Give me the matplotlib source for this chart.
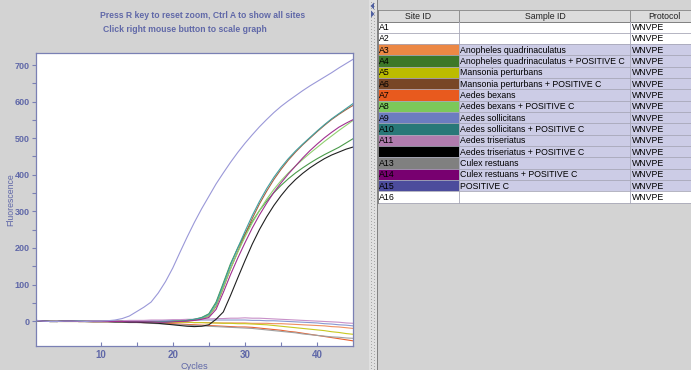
import matplotlib
matplotlib.use('Agg')
import matplotlib.pyplot as plt
from matplotlib.patches import Rectangle, Polygon

# ---------------- data ----------------
cycles = list(range(1, 46))

site_ids = ['A1', 'A2', 'A3', 'A4', 'A5', 'A6', 'A7', 'A8', 'A9', 'A10',
            'A11', 'A12', 'A13', 'A14', 'A15', 'A16']
sample_ids = ['', '', 'Anopheles quadrinaculatus',
              'Anopheles quadrinaculatus + POSITIVE C',
              'Mansonia perturbans', 'Mansonia perturbans + POSITIVE C',
              'Aedes bexans', 'Aedes bexans + POSITIVE C',
              'Aedes sollicitans', 'Aedes sollicitans + POSITIVE C',
              'Aedes triseriatus', 'Aedes triseriatus + POSITIVE C',
              'Culex restuans', 'Culex restuans + POSITIVE C',
              'POSITIVE C', '']
protocols = ['WNVPE'] * 16
site_colors = [None, None, '#ec8844', '#3c7828', '#bcbc00', '#784626',
               '#e85a1e', '#7cc85a', '#6c7cc0', '#287878', '#b07cae',
               '#000000', '#808080', '#780070', '#4c4c9c', None]

# fluorescence per cycle
A3 = [2, 0, -1, -1, 0, 0, -1, -1, -1, -1,
      -1, -1, -2, -2, -2, -2, -2, -3, -3, -3,
      -3, -3, -4, -4, -4, -5, -5, -5, -5, -5,
      -6, -6, -6, -7, -7, -8, -9, -10, -11, -12,
      -13, -15, -16, -18, -20]
A4 = [2, 0, -1, -1, 0, 0, 0, -1, -1, -1,
      -1, -1, -1, -2, -2, -2, -2, -2, -2, -1,
      0, 2, 5, 10, 20, 52, 104, 157, 200, 238,
      272, 302, 328, 351, 371, 389, 405, 419, 432, 444,
      455, 465, 475, 487, 499]
A5 = [1, 0, 0, -1, -1, -1, -1, -1, -1, -1,
      -1, -1, -1, -2, -2, -2, -2, -2, -3, -3,
      -3, -3, -4, -4, -5, -5, -6, -6, -7, -7,
      -8, -9, -10, -12, -14, -16, -18, -20, -22, -24,
      -26, -29, -31, -34, -36]
A6 = [2, 0, -1, -1, 0, 0, -1, -1, -1, -1,
      -1, -1, -1, -2, -2, -2, -2, -2, -2, -1,
      0, 1, 3, 7, 14, 40, 90, 143, 190, 236,
      280, 320, 355, 387, 415, 440, 462, 482, 500, 518,
      535, 551, 565, 578, 590]
A7 = [1, 0, 0, -1, -1, -1, -1, -1, -2, -2,
      -2, -2, -3, -3, -3, -4, -4, -5, -6, -7,
      -8, -9, -10, -11, -12, -13, -14, -15, -16, -16,
      -17, -19, -21, -23, -25, -28, -30, -33, -36, -39,
      -42, -45, -48, -51, -54]
A8 = [2, 0, -1, -1, 0, 0, -1, -1, -1, -1,
      -1, -1, -1, -2, -2, -2, -2, -2, -2, -1,
      0, 1, 3, 7, 14, 42, 92, 143, 188, 230,
      268, 302, 333, 360, 384, 405, 424, 442, 459, 475,
      491, 506, 521, 535, 549]
A9 = [1, 0, 0, 0, 0, 0, 0, 0, 0, 0,
      0, 0, 1, 1, 1, 1, 1, 1, 2, 2,
      2, 2, 2, 3, 3, 3, 3, 3, 3, 3,
      2, 2, 1, 1, 0, -1, -2, -3, -4, -5,
      -7, -8, -10, -11, -13]
A10 = [2, 0, -1, -1, 0, 0, 0, -1, -1, -1,
       -1, -1, -1, -2, -2, -2, -2, -2, -1, 0,
       0, 2, 5, 9, 18, 48, 100, 153, 200, 245,
       288, 327, 362, 393, 420, 444, 465, 484, 502, 520,
       537, 553, 567, 581, 595]
A11 = [2, 1, 0, 0, 0, 0, 0, 1, 1, 1,
       1, 1, 1, 2, 2, 2, 3, 3, 3, 4,
       4, 5, 5, 6, 6, 7, 7, 8, 8, 9,
       8, 8, 7, 6, 5, 4, 3, 2, 1, 0,
       -1, -2, -3, -5, -6]
A12 = [2, 0, -1, -1, 0, 0, -1, -1, -1, -1,
       -1, -2, -2, -3, -3, -4, -5, -6, -8, -10,
       -12, -14, -15, -14, -10, 5, 25, 70, 118, 165,
       210, 250, 285, 316, 343, 367, 387, 404, 419, 432,
       444, 454, 462, 470, 476]
A13 = [1, 0, 0, -1, -1, -1, -1, -1, -2, -2,
       -2, -3, -3, -4, -4, -5, -6, -7, -8, -9,
       -10, -11, -12, -13, -14, -15, -16, -17, -18, -19,
       -20, -22, -24, -26, -28, -30, -32, -35, -37, -39,
       -41, -43, -44, -46, -47]
A14 = [2, 0, -1, -1, 0, 0, -1, -1, -1, -1,
       -1, -1, -1, -2, -2, -2, -2, -3, -3, -2,
       -1, 0, 2, 5, 10, 32, 78, 127, 172, 214,
       254, 290, 322, 352, 378, 402, 424, 446, 466, 484,
       501, 516, 530, 541, 551]
A15 = [2, 0, -1, -1, 0, 0, 0, -1, 0, 0,
       1, 3, 7, 14, 26, 38, 52, 77, 108, 145,
       188, 230, 270, 307, 341, 375, 405, 434, 461, 486,
       509, 531, 551, 570, 587, 602, 616, 630, 643, 655,
       667, 679, 692, 704, 716]

curve_sites = ['A3', 'A5', 'A7', 'A9', 'A11', 'A13',
               'A4', 'A6', 'A8', 'A10', 'A12', 'A14', 'A15']
curve_values = [A3, A5, A7, A9, A11, A13, A4, A6, A8, A10, A12, A14, A15]
line_colors = ['#ee9060', '#c8c820', '#e86030', '#8898d0', '#c890c8', '#a0a0a0',
               '#4a9a4a', '#a86040', '#90d070', '#40a0a0', '#202020', '#a03090',
               '#9a98d8']

yticks = [0, 100, 200, 300, 400, 500, 600, 700]
xticks = [10, 20, 30, 40]

# ---------------- figure ----------------
W, H = 691, 370
BG = '#d3d3d3'
BLUE = '#6068a8'
plt.rcParams['font.family'] = ['Liberation Sans', 'DejaVu Sans']

fig = plt.figure(figsize=(W / 100, H / 100), dpi=100)
fig.patch.set_facecolor(BG)

# overlay in pixel coordinates
ov = fig.add_axes([0, 0, 1, 1])
ov.set_xlim(0, W)
ov.set_ylim(H, 0)
ov.axis('off')
ov.patch.set_alpha(0)

# plot axes
L, R, T, B = 35.5, 353.3, 53.3, 346.0
ax = fig.add_axes([L / W, (H - B) / H, (R - L) / W, (B - T) / H])
ax.set_facecolor('white')
for s in ax.spines.values():
    s.set_color('#7a80b4')
    s.set_linewidth(0.9)

for vals, col in zip(curve_values, line_colors):
    ax.plot(cycles, vals, color=col, lw=0.8, solid_joinstyle='round')

ax.set_xlim(1, 45)
ax.set_ylim(-68, 732)
ax.set_xticks(xticks)
ax.set_xticks([15, 25, 35], minor=True)
ax.set_yticks(yticks)
ax.set_yticks([50, 150, 250, 350, 450, 550, 650], minor=True)
ax.tick_params(axis='y', which='both', direction='out', length=3, width=0.8,
               color='#7a80b4', labelcolor=BLUE, labelsize=6.5, pad=1)
ax.tick_params(axis='x', which='both', direction='in', length=3, width=0.8,
               color='#7a80b4', labelcolor=BLUE, labelsize=7, pad=3)
for lab in ax.get_xticklabels() + ax.get_yticklabels():
    lab.set_fontweight('bold')

# axis titles
ov.text(10.5, 200, 'Fluorescence', rotation=90, ha='center', va='center',
        color=BLUE, fontsize=6.3)
ov.text(194, 362, 'Cycles', ha='center', va='top', color=BLUE, fontsize=6.6)

# header instructions
TF = ['Liberation Sans Narrow', 'Liberation Sans', 'DejaVu Sans']
ov.text(203, 16, 'Press R key to reset zoom, Ctrl A to show all sites',
        ha='center', va='center', color=BLUE, fontsize=6.2, fontweight='bold',
        family=TF)
ov.text(103, 29, 'Click right mouse button to scale graph',
        ha='left', va='center', color=BLUE, fontsize=6.2, fontweight='bold',
        family=TF)

# splitter
ov.add_patch(Rectangle((369, 0), 8, H, facecolor='#e0e0e0', edgecolor='none'))
for yy in range(2, H, 3):
    ov.add_patch(Rectangle((371, yy), 1, 1, facecolor='#a8a8a8', edgecolor='none'))
    ov.add_patch(Rectangle((374, yy + 1), 1, 1, facecolor='#a8a8a8', edgecolor='none'))
ov.plot([377.5, 377.5], [0, H], color='#808080', lw=0.7)
ov.add_patch(Polygon([[374, 2.5], [374, 9.5], [370.5, 6]], closed=True,
                     facecolor='#5060a0', edgecolor='none'))
ov.add_patch(Polygon([[371, 10.5], [371, 17.5], [374.5, 14]], closed=True,
                     facecolor='#5060a0', edgecolor='none'))

# table
col_x = [378, 459, 630, 700]
head_top, head_bot = 10, 21.5
row_h = 11.33
ROW_BG = '#ccccE6'
GRID = '#a8a8b8'
FS = 6.3

ov.add_patch(Rectangle((378, head_top), W - 378, head_bot - head_top,
                       facecolor='#dcdcdc', edgecolor='none'))
ov.plot([378, W], [head_top, head_top], color='#909090', lw=0.7)
ov.plot([378, W], [head_bot, head_bot], color='#808080', lw=0.7)
headers = ['Site ID', 'Sample ID', 'Protocol']
head_cx = [418, 545, 664]
for hx, ht in zip(head_cx, headers):
    ov.text(hx, (head_top + head_bot) / 2 + 0.5, ht, ha='center', va='center',
            fontsize=FS, color='#202020')
for cx in col_x[1:3]:
    ov.plot([cx, cx], [head_top, head_bot], color='#909090', lw=0.7)

for i in range(16):
    top = head_bot + i * row_h
    bg = 'white' if site_colors[i] is None else ROW_BG
    ov.add_patch(Rectangle((378, top), W - 378, row_h, facecolor=bg,
                           edgecolor='none'))
    if site_colors[i] is not None:
        ov.add_patch(Rectangle((378, top), col_x[1] - 378, row_h,
                               facecolor=site_colors[i], edgecolor='none'))
    ov.plot([378, W], [top + row_h, top + row_h], color=GRID, lw=0.6)
    cy = top + row_h / 2 + 0.5
    ov.text(379, cy, site_ids[i], ha='left', va='center', fontsize=FS, color='black')
    ov.text(col_x[1] + 1.5, cy, sample_ids[i], ha='left', va='center',
            fontsize=FS, color='black')
    ov.text(col_x[2] + 1.5, cy, protocols[i], ha='left', va='center',
            fontsize=FS, color='black')

tbl_bot = head_bot + 16 * row_h
for cx in col_x[1:3]:
    ov.plot([cx, cx], [head_bot, tbl_bot], color=GRID, lw=0.6)
ov.plot([378, 378], [head_top, tbl_bot], color='#808080', lw=0.7)

fig.savefig('out.png', dpi=100, facecolor=fig.get_facecolor())
